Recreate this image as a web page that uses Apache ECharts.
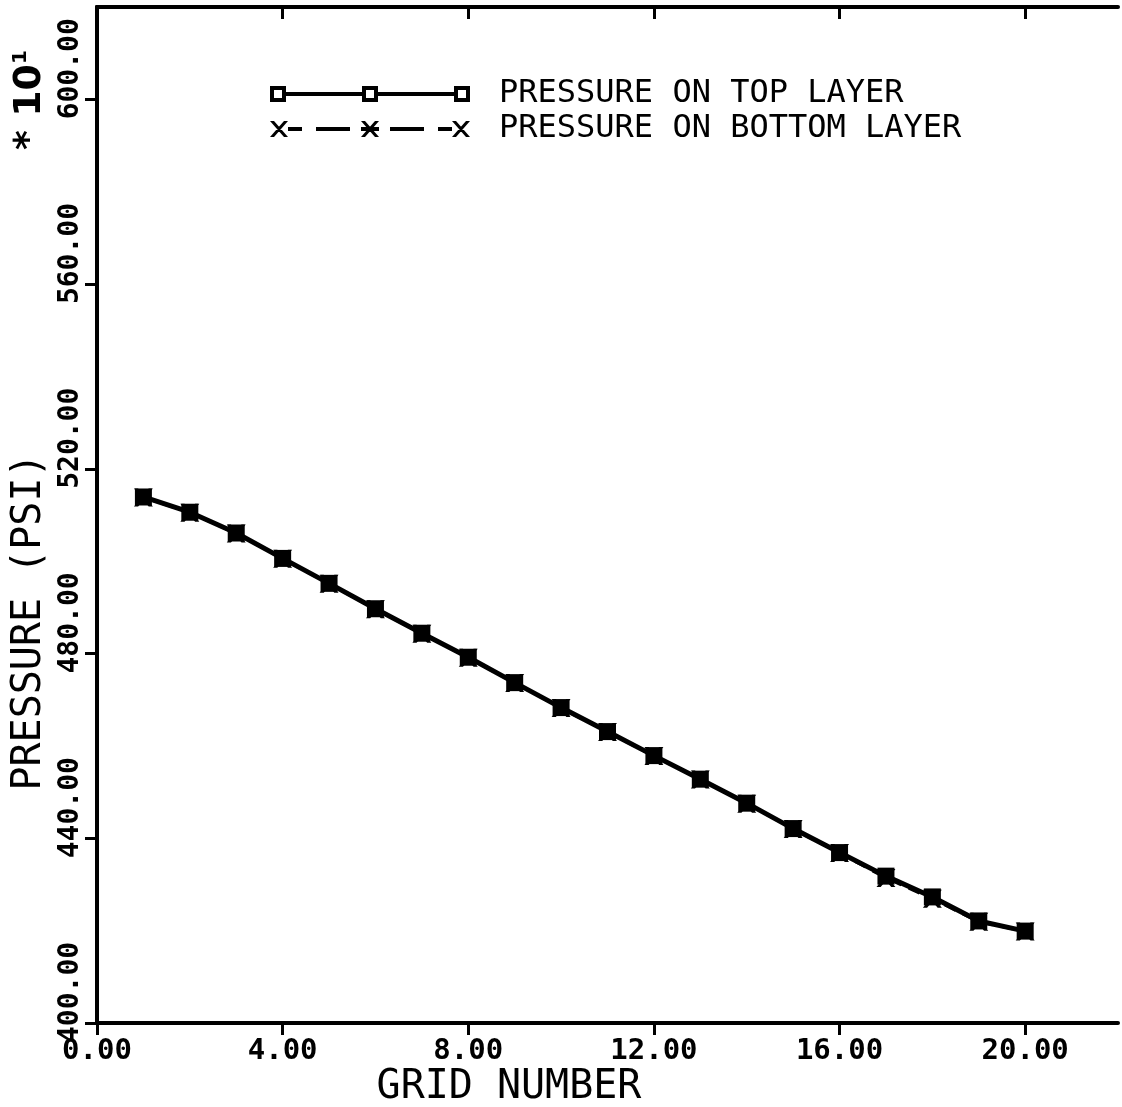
<!DOCTYPE html>
<html>
<head>
<meta charset="utf-8">
<title>Pressure vs grid number</title>
<script src="https://cdn.jsdelivr.net/npm/echarts@6/dist/echarts.min.js"></script>
<style>
  html, body { margin: 0; padding: 0; background: #fff; }
  #chart { width: 1122px; height: 1107px; }
</style>
</head>
<body>
<div id="chart"></div>
<script>
// values (pressure is in units of 10 psi, see the *10^1 note)
const gridNumber = [1, 2, 3, 4, 5, 6, 7, 8, 9, 10, 11, 12, 13, 14, 15, 16, 17, 18, 19, 20];
const topLayer = [513.9, 510.6, 506.1, 500.6, 495.2, 489.7, 484.4, 479.2, 473.7, 468.3,
                  463.1, 457.9, 452.8, 447.6, 442.1, 436.9, 431.8, 427.3, 422.1, 419.9];
const bottomLayer = [513.8, 510.5, 506.0, 500.5, 495.1, 489.6, 484.3, 479.1, 473.6, 468.2,
                     463.0, 457.8, 452.7, 447.5, 442.0, 436.8, 431.4, 426.9, 421.9, 419.8];
const xTicks = [0, 4, 8, 12, 16, 20];
const yTicks = [400, 440, 480, 520, 560, 600];

const seriesNames = ['PRESSURE ON TOP LAYER', 'PRESSURE ON BOTTOM LAYER'];

const mono = 'DejaVu Sans Mono';

// legend icons: line with three markers, like the plotter legend
const topIcon = 'path://' +
  [0, 92, 184].map(x => `M${x},0H${x + 16}V16H${x}Z M${x + 4},4V12H${x + 12}V4Z`).join(' ') +
  ' M16,6H92V10H16Z M108,6H184V10H108Z';

const crossPath = (x, star) => {
  let p = `M${x},0L${x + 4},0L${x + 18},16L${x + 14},16Z M${x + 14},0L${x + 18},0L${x + 4},16L${x},16Z`;
  if (star) p += ` M${x},6H${x + 18}V10H${x}Z`;
  return p;
};
const bottomIcon = 'path://' + crossPath(0) + ' ' + crossPath(91, true) + ' ' + crossPath(182) +
  ' M18,6H32V10H18Z M46,6H80V10H46Z M120,6H154V10H120Z M168,6H182V10H168Z';

const chart = echarts.init(document.getElementById('chart'));

const axisLine = { lineStyle: { color: '#000', width: 4 } };
const tickStyle = { color: '#000', width: 3 };

const legendText = { fontFamily: mono, fontSize: 32, color: '#000', padding: [0, 0, 0, 24] };

const option = {
  animation: false,
  backgroundColor: '#fff',
  grid: { left: 97, right: 4, top: 7, bottom: 84 },
  legend: [
    {
      data: [{ name: seriesNames[0], icon: topIcon }],
      left: 265, top: 73,
      itemWidth: 200, itemHeight: 16,
      itemStyle: { color: '#000', borderWidth: 0 },
      textStyle: legendText,
      selectedMode: false
    },
    {
      data: [{ name: seriesNames[1], icon: bottomIcon }],
      left: 265, top: 108,
      itemWidth: 200, itemHeight: 16,
      itemStyle: { color: '#000', borderWidth: 0 },
      textStyle: legendText,
      selectedMode: false
    }
  ],
  xAxis: [
    {
      type: 'value', position: 'bottom', min: 0, max: 22, interval: 4,
      axisLine,
      axisTick: { show: true, inside: false, length: 12, customValues: xTicks, lineStyle: tickStyle },
      axisLabel: {
        customValues: xTicks,
        formatter: v => v.toFixed(2),
        fontFamily: mono, fontWeight: 'bold', fontSize: 29, color: '#000', margin: 14
      },
      splitLine: { show: false }
    },
    {
      type: 'value', position: 'top', min: 0, max: 22, interval: 4,
      axisLine,
      axisTick: { show: true, inside: true, length: 12, customValues: xTicks, lineStyle: tickStyle },
      axisLabel: { show: false },
      splitLine: { show: false }
    }
  ],
  yAxis: [
    {
      type: 'value', position: 'left', min: 400, max: 620, interval: 40,
      axisLine,
      axisTick: { show: true, inside: false, length: 12, customValues: yTicks, lineStyle: tickStyle },
      axisLabel: {
        customValues: yTicks,
        formatter: v => v.toFixed(2),
        rotate: 90,
        align: 'left',
        verticalAlign: 'bottom',
        padding: [0, 0, 0, -20],
        fontFamily: mono, fontWeight: 'bold', fontSize: 28, color: '#000', margin: 12
      },
      splitLine: { show: false }
    },
    {
      type: 'value', position: 'right', min: 400, max: 620, interval: 40,
      axisLine,
      axisTick: { show: true, inside: true, length: 12, customValues: yTicks, lineStyle: tickStyle },
      axisLabel: { show: false },
      splitLine: { show: false }
    }
  ],
  graphic: [
    {
      type: 'text', x: 30, y: 622, rotation: Math.PI / 2,
      style: { text: 'PRESSURE (PSI)', fontFamily: mono, fontSize: 40, fill: '#000', align: 'center', verticalAlign: 'middle' }
    },
    {
      type: 'text', x: 509, y: 1088,
      style: { text: 'GRID NUMBER', fontFamily: mono, fontSize: 40, fill: '#000', align: 'center', verticalAlign: 'middle' }
    },
    {
      type: 'text', x: 30, y: 100, rotation: Math.PI / 2,
      style: {
        text: '{a|* }{b|10}{c|1}',
        align: 'center', verticalAlign: 'middle',
        rich: {
          a: { fontFamily: 'DejaVu Sans', fontWeight: 'bold', fontSize: 38, fill: '#000' },
          b: { fontFamily: 'DejaVu Sans', fontWeight: 'bold', fontSize: 38, fill: '#000' },
          c: { fontFamily: 'DejaVu Sans', fontWeight: 'bold', fontSize: 20, fill: '#000', verticalAlign: 'top' }
        }
      }
    }
  ],
  series: [
    {
      name: seriesNames[0],
      type: 'line',
      data: gridNumber.map((g, i) => [g, topLayer[i]]),
      symbol: 'rect',
      symbolSize: 17,
      itemStyle: { color: '#000' },
      lineStyle: { color: '#000', width: 5, type: 'solid' },
      z: 3
    },
    {
      name: seriesNames[1],
      type: 'line',
      data: gridNumber.map((g, i) => [g, bottomLayer[i]]),
      symbol: 'path://M0,0L4,0L18,16L14,16Z M14,0L18,0L4,16L0,16Z',
      symbolSize: [19, 18],
      itemStyle: { color: '#000' },
      lineStyle: { color: '#000', width: 3, type: [12, 8] },
      z: 2
    }
  ]
};

chart.setOption(option);

window.addEventListener('resize', () => chart.resize());
</script>
</body>
</html>
